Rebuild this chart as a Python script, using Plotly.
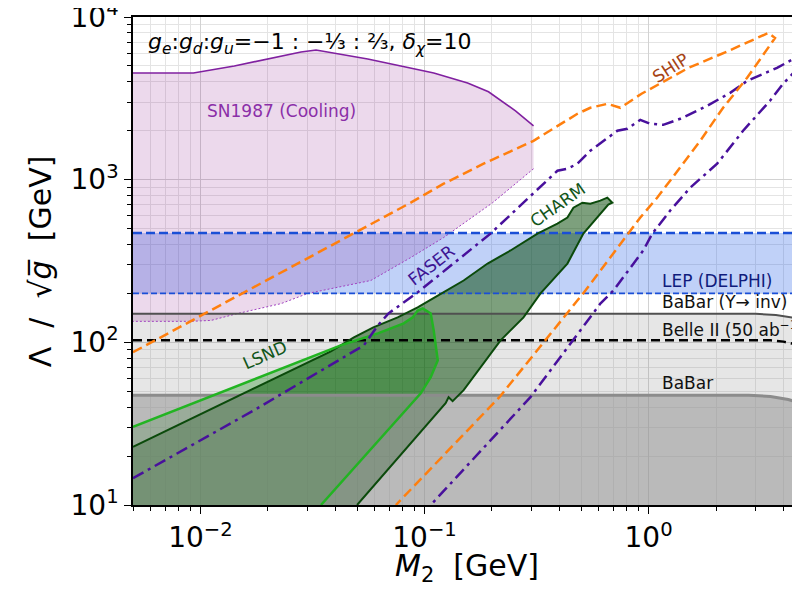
import numpy as np
import plotly.graph_objects as go

# ---------------- axis limits & ticks ----------------
x_lim = [0.005, 4.74]
y_lim = [10, 10000]
x_far = 5.5  # beyond right edge (clipped)

x_tick_vals = [0.01, 0.1, 1]
x_tick_text = ["10<sup>−2</sup>", "10<sup>−1</sup>", "10<sup>0</sup>"]
y_tick_vals = [10, 100, 1000, 10000]
y_tick_text = ["10<sup>1</sup>", "10<sup>2</sup>", "10<sup>3</sup>", "10<sup>4</sup>"]
minor_digits = [2, 3, 4, 5, 6, 7, 8, 9]
x_decades = [-3, -2, -1, 0]
y_decades = [1, 2, 3]

# ---------------- SN1987 (Cooling) ----------------
sn_top_x = [0.005, 0.0093, 0.01416, 0.02003, 0.0281, 0.0328, 0.0394, 0.0558, 0.0784, 0.110, 0.1557, 0.193, 0.2547, 0.3066]
sn_top_y = [4530, 4530, 5000, 5520, 6100, 6270, 6010, 5520, 5000, 4530, 3935, 3470, 2650, 2140]
sn_bot_x = [0.3066, 0.2014, 0.1218, 0.0868, 0.0576, 0.0402, 0.0302, 0.0229, 0.01472, 0.01116, 0.0091, 0.005]
sn_bot_y = [1167, 722, 441, 332, 240, 217, 200, 173, 150.6, 136.4, 134.6, 134.6]

# ---------------- LEP (DELPHI) band ----------------
lep_lo = 200
lep_hi = 470

# ---------------- BaBar (Upsilon -> inv), Belle II, BaBar ----------------
babar_ups_x = [0.005, 3.0, 3.7, 4.3, 4.74, 5.5]
babar_ups_y = [150, 150, 147, 143, 140, 136]
belle_x = [0.005, 3.5, 4.0, 4.4, 4.74, 5.5]
belle_y = [103, 103, 101, 98, 95.9, 90]
babar_x = [0.005, 2.8, 3.5, 4.2, 4.74, 5.5]
babar_y = [47.3, 47.3, 46.5, 44.5, 42.3, 38]

# ---------------- LSND ----------------
lsnd_x = [0.005, 0.0137, 0.0423, 0.0619, 0.0729, 0.0808, 0.0886, 0.0932, 0.0982, 0.1066, 0.1099, 0.1146, 0.1066, 0.0962, 0.0345]
lsnd_y = [30.2, 52.2, 95.8, 113.5, 123.6, 130.8, 142.3, 157, 161.7, 150.6, 118.5, 77.5, 61, 48.6, 10]

# ---------------- CHARM ----------------
charm_x = [0.005, 0.0382, 0.0484, 0.0591, 0.0759, 0.0932, 0.1146, 0.1495, 0.1912, 0.242, 0.3193, 0.3918,
           0.4343, 0.4619, 0.5065, 0.5496, 0.609, 0.6544, 0.6889, 0.661, 0.5117, 0.4343, 0.3294, 0.2766,
           0.2185, 0.1495, 0.1335, 0.1281, 0.1242, 0.0500]
charm_y = [22.8, 88.1, 107.3, 123.6, 142.3, 164, 194, 240, 305, 367, 466, 537,
           585, 673, 722, 712, 743, 776, 722, 703, 466, 305, 200, 142.3,
           102.9, 50.8, 43.5, 46.0, 42.2, 10]

# ---------------- FASER ----------------
faser_up_x = [0.005, 0.01738, 0.0536, 0.0619, 0.0691, 0.0932, 0.197, 0.3065, 0.392, 0.434, 0.481, 0.5496,
              0.628, 0.7253, 0.804, 0.918, 1.017, 1.163, 1.384, 1.826, 2.312, 2.753, 3.744, 4.74, 5.5]
faser_up_y = [14.6, 38.3, 95.8, 127, 150.7, 202.8, 466, 820, 1135, 1167, 1253, 1506,
              1734, 1998, 2055, 2334, 2206, 2173, 2368, 2843, 3418, 4047, 4866, 5770, 6500]
faser_lo_x = [5.5, 4.74, 3.981, 3.483, 2.641, 2.023, 1.534, 1.249, 1.039, 0.947, 0.696, 0.609, 0.297, 0.1066]
faser_lo_y = [6500, 5000, 3880, 3055, 1998, 1253, 893, 646, 466, 367, 208, 173, 46, 10]

# ---------------- SHIP ----------------
ship_x = [0.005, 0.0868, 0.1218, 0.1835, 0.3065, 0.4812, 0.5496, 0.6544, 0.748, 0.930, 1.506, 2.270, 3.421, 3.667,
          2.753, 2.151, 1.700, 1.384, 1.094, 0.9186, 0.812, 0.7107, 0.609, 0.5224, 0.2158, 0.0745]
ship_y = [86.9, 722, 945, 1253, 1734, 2540, 2767, 2926, 2767, 3374, 4866, 6180, 7980, 7430,
          4227, 2767, 1734, 1185, 776, 585, 466, 367, 277, 208, 46, 10]

# ---------------- labels (text, x, y, angle, colour) ----------------
label_text = ["SN1987 (Cooling)", "LEP (DELPHI)", "BaBar (Υ→ inv)", "Belle II (50 ab<sup>−1</sup>)", "BaBar",
              "CHARM", "LSND", "FASER", "SHIP"]
label_x = [0.0229, 1.13, 1.13, 1.13, 1.13, 0.392, 0.0194, 0.1078, 1.249]
label_y = [2650, 237, 176, 120, 56, 703, 83.2, 297, 4866]
label_angle = [0, 0, 0, 0, 0, -35, -24, -38, -33]
label_color = ["#8b2fa8", "#101c7c", "#111111", "#111111", "#111111", "#12561a", "#12561a", "#3d1594", "#a64314"]
label_anchor = ["center", "left", "left", "left", "left", "center", "center", "center", "center"]

coupling_text = ("<i>g</i><sub><i>e</i></sub>:<i>g</i><sub><i>d</i></sub>:<i>g</i><sub><i>u</i></sub>"
                 "=−1 : −⅓ : ⅔, <i>δ</i><sub><i>χ</i></sub>=10")
coupling_x = 0.00573
coupling_y = 6920

x_title = "<i>M</i><sub>2</sub>\u00a0 [GeV]"
y_title = "Λ\u00a0 /\u00a0 √<i>g\u0305</i>\u00a0 [GeV]"

y_floor = y_lim[0]
x_left = x_lim[0]

fig = go.Figure()


def poly(xs, ys, fillcolor):
    fig.add_trace(go.Scatter(x=xs, y=ys, mode="lines", fill="toself", fillcolor=fillcolor,
                             line=dict(width=0), hoverinfo="skip", showlegend=False))


def line(xs, ys, color, width, dash="solid"):
    fig.add_trace(go.Scatter(x=xs, y=ys, mode="lines", line=dict(color=color, width=width, dash=dash),
                             hoverinfo="skip", showlegend=False))


# fills (back to front)
poly(babar_ups_x + [x_far, x_left], babar_ups_y + [y_floor, y_floor], "rgba(128,128,128,0.2)")
poly([x_left, x_far, x_far, x_left], [lep_lo, lep_lo, lep_hi, lep_hi], "rgba(30,90,230,0.28)")
poly(sn_top_x + sn_bot_x, sn_top_y + sn_bot_y, "rgba(128,0,128,0.15)")
poly(charm_x + [x_left], charm_y + [y_floor], "rgba(0,69,0,0.51)")
poly(lsnd_x + [x_left], lsnd_y + [y_floor], "rgba(0,130,0,0.3)")
poly(babar_x + [x_far, x_left], babar_y + [y_floor, y_floor], "rgba(150,150,150,0.55)")

# lines
line(sn_top_x, sn_top_y, "#8020a0", 1.6)
line(sn_bot_x, sn_bot_y, "#a040c0", 1, "2px,2px")
line([x_left, x_far], [lep_hi, lep_hi], "#1a4fd6", 2.5, "9px,4px")
line([x_left, x_far], [lep_lo, lep_lo], "#1a4fd6", 1.6, "6px,3px")
line(babar_ups_x, babar_ups_y, "#505050", 2)
line(belle_x, belle_y, "#000000", 2.5, "9px,5px")
line(babar_x, babar_y, "#8c8c8c", 3)
line(charm_x, charm_y, "#0b4a0b", 2)
line(lsnd_x, lsnd_y, "#22b422", 2.5)
line(faser_up_x, faser_up_y, "#48109c", 2.5, "12px,5px,3px,5px")
line(faser_lo_x, faser_lo_y, "#48109c", 2.5, "12px,5px,3px,5px")
line(ship_x, ship_y, "#ff7f0e", 2.5, "10px,5px")

annotations = []
for t, lx, ly, ang, col, anc in zip(label_text, label_x, label_y, label_angle, label_color, label_anchor):
    annotations.append(dict(text=t, x=np.log10(lx), y=np.log10(ly), xref="x", yref="y",
                            showarrow=False, textangle=ang, xanchor=anc, yanchor="middle",
                            font=dict(size=17, color=col, family="DejaVu Sans")))
annotations.append(dict(text=coupling_text, x=np.log10(coupling_x), y=np.log10(coupling_y),
                        xref="x", yref="y", showarrow=False, xanchor="left", yanchor="middle",
                        font=dict(size=22, color="black", family="DejaVu Sans")))
# axis titles (placed in paper coordinates)
annotations.append(dict(text=x_title, x=0.5, y=-0.129, xref="paper", yref="paper", showarrow=False,
                        xanchor="center", yanchor="middle", font=dict(size=30, color="black")))
annotations.append(dict(text=y_title, x=-0.139, y=0.5, xref="paper", yref="paper", showarrow=False,
                        xanchor="center", yanchor="middle", textangle=-90,
                        font=dict(size=30, color="black")))

x_minor = [d * 10.0 ** e for e in x_decades for d in minor_digits]
y_minor = [d * 10.0 ** e for e in y_decades for d in minor_digits]

# the page body adds an 8px offset, so the figure is 8px smaller and margins shifted
fig.update_layout(
    width=792, height=582,
    margin=dict(l=125, r=0, t=9, b=85, autoexpand=False),
    plot_bgcolor="white", paper_bgcolor="white",
    font=dict(family="DejaVu Sans", color="black"),
    showlegend=False,
    annotations=annotations,
    xaxis=dict(
        type="log", range=[np.log10(x_lim[0]), np.log10(x_lim[1])], automargin=False,
        tickmode="array", tickvals=x_tick_vals, ticktext=x_tick_text, ticklabeloverflow="allow",
        tickfont=dict(size=28), ticks="outside", ticklen=7, tickwidth=1.3, tickcolor="black",
        showline=True, linecolor="black", linewidth=1.5, mirror=True,
        showgrid=True, gridcolor="#d2d2d2", gridwidth=1.2, zeroline=False,
        minor=dict(tickmode="array", tickvals=x_minor, ticks="outside", ticklen=4, tickcolor="black",
                   tickwidth=1, showgrid=True, gridcolor="#e4e4e4", gridwidth=1),
        layer="above traces",
    ),
    yaxis=dict(
        type="log", range=[np.log10(y_lim[0]), np.log10(y_lim[1])], automargin=False,
        tickmode="array", tickvals=y_tick_vals, ticktext=y_tick_text, ticklabeloverflow="allow",
        tickfont=dict(size=28), ticks="outside", ticklen=7, tickwidth=1.3, tickcolor="black",
        showline=True, linecolor="black", linewidth=1.5, mirror=False,
        showgrid=True, gridcolor="#d2d2d2", gridwidth=1.2, zeroline=False,
        minor=dict(tickmode="array", tickvals=y_minor, ticks="outside", ticklen=4, tickcolor="black",
                   tickwidth=1, showgrid=True, gridcolor="#e4e4e4", gridwidth=1),
        layer="above traces",
    ),
)

fig.write_html("out.html")
